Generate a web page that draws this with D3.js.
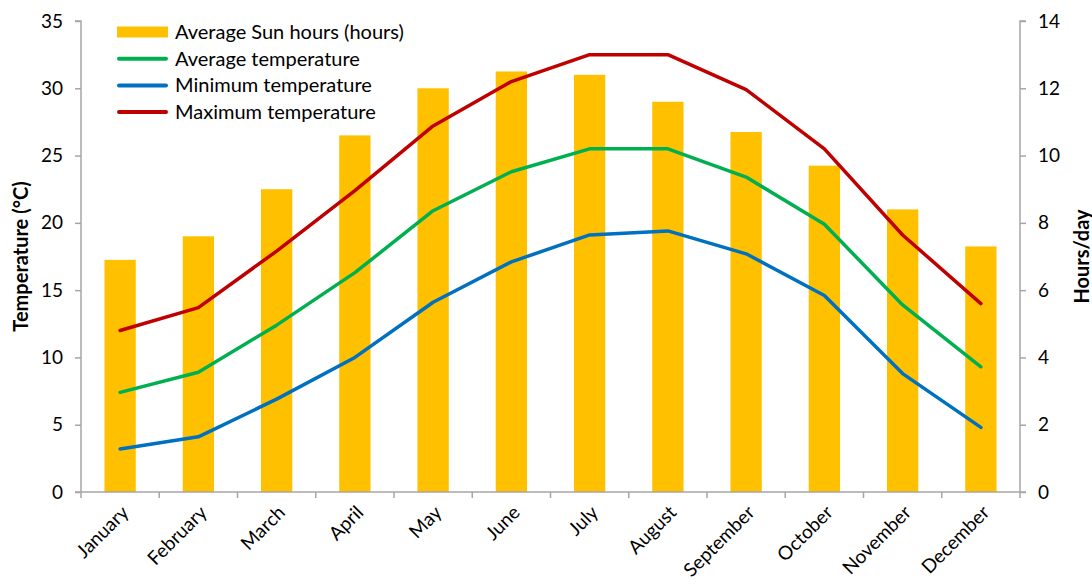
<!DOCTYPE html>
<html>
<head>
<meta charset="utf-8">
<script src="https://cdn.jsdelivr.net/npm/d3@7"></script>
<style>
  body { margin: 0; background: #fff; }
  text { font-family: Lato, "Open Sans", sans-serif; fill: #000; }
</style>
</head>
<body>
<div id="chart"></div>
<script>
var months = ["January", "February", "March", "April", "May", "June", "July",
    "August", "September", "October", "November", "December"];
var sunHours = [6.9, 7.6, 9.0, 10.6, 12.0, 12.5, 12.4, 11.6, 10.7, 9.7, 8.4, 7.3];
var avgTemp = [7.4, 8.9, 12.4, 16.3, 20.9, 23.8, 25.5, 25.5, 23.4, 19.9, 13.9, 9.3];
var minTemp = [3.2, 4.1, 6.9, 10.0, 14.1, 17.1, 19.1, 19.4, 17.7, 14.6, 8.8, 4.8];
var maxTemp = [12.0, 13.7, 17.9, 22.4, 27.2, 30.5, 32.5, 32.5, 29.9, 25.5, 19.1, 14.0];
var tempTicks = [0, 5, 10, 15, 20, 25, 30, 35];
var hourTicks = [0, 2, 4, 6, 8, 10, 12, 14];

var series = [
    {name: "Average temperature", values: avgTemp, color: "#00B050"},
    {name: "Minimum temperature", values: minTemp, color: "#0070C0"},
    {name: "Maximum temperature", values: maxTemp, color: "#C00000"}
];

var margin = {top: 21, right: 72, bottom: 95, left: 81};
var W = 1092, H = 587;
var width = W - margin.left - margin.right;
var height = H - margin.top - margin.bottom;
var fontSize = "19px";

var svg = d3.select("#chart").append("svg")
    .attr("width", W)
    .attr("height", H);
var g = svg.append("g")
    .attr("transform", "translate(" + margin.left + "," + margin.top + ")");

var x = d3.scaleBand().domain(months).range([0, width]).padding(0);
var yT = d3.scaleLinear().domain([0, 35]).range([height, 0]);
var yH = d3.scaleLinear().domain([0, 14]).range([height, 0]);

var axisColor = "#A6A6A6";
var barW = x.bandwidth() * 0.4;

// bars
g.selectAll(".bar")
    .data(months)
    .enter().append("rect")
    .attr("class", "bar")
    .attr("x", function(d) { return x(d) + (x.bandwidth() - barW) / 2 })
    .attr("width", barW)
    .attr("y", function(d, i) { return yH(sunHours[i]) })
    .attr("height", function(d, i) { return height - yH(sunHours[i]) })
    .attr("fill", "#FFC000");

// lines
var line = d3.line()
    .x(function(d, i) { return x(months[i]) + x.bandwidth() / 2 })
    .y(function(d) { return yT(d) });

series.forEach(function(s) {
    g.append("path")
        .datum(s.values)
        .attr("fill", "none")
        .attr("stroke", s.color)
        .attr("stroke-width", 3.5)
        .attr("stroke-linecap", "round")
        .attr("stroke-linejoin", "round")
        .attr("d", line);
});

// left axis
var left = g.append("g")
    .call(d3.axisLeft(yT).tickValues(tempTicks).tickSize(6).tickPadding(12));
// right axis
var right = g.append("g")
    .attr("transform", "translate(" + width + ",0)")
    .call(d3.axisRight(yH).tickValues(hourTicks).tickSize(6).tickPadding(12));
// bottom axis
var bottom = g.append("g")
    .attr("transform", "translate(0," + height + ")")
    .call(d3.axisBottom(x).tickSize(0).tickFormat(""));

[left, right, bottom].forEach(function(a) {
    a.select(".domain").attr("stroke", axisColor).attr("stroke-width", 1.5);
    a.selectAll(".tick line").attr("stroke", axisColor).attr("stroke-width", 1.5);
    a.selectAll(".tick text").style("font-size", fontSize).style("font-family", "Lato, sans-serif").attr("fill", "#000");
});
left.select(".domain").attr("d", "M0," + height + "V0H-6");
right.select(".domain").attr("d", "M0," + height + "V0H6");
bottom.select(".domain").attr("d", "M-6,0H" + (width + 6));

// category boundary ticks
g.append("g").selectAll("line")
    .data(months.concat(["end"]))
    .enter().append("line")
    .attr("x1", function(d, i) { return i * x.step() })
    .attr("x2", function(d, i) { return i * x.step() })
    .attr("y1", height)
    .attr("y2", height + 6)
    .attr("stroke", axisColor)
    .attr("stroke-width", 1.5);

// month labels
g.append("g").selectAll("text")
    .data(months)
    .enter().append("text")
    .attr("transform", function(d) {
        return "translate(" + (x(d) + x.bandwidth() / 2 + 5) + "," + (height + 17) + ") rotate(-45)";
    })
    .attr("text-anchor", "end")
    .attr("dy", "0.35em")
    .style("font-size", fontSize)
    .text(function(d) { return d });

// axis titles
svg.append("text")
    .attr("transform", "translate(28," + (margin.top + height / 2) + ") rotate(-90)")
    .attr("text-anchor", "middle")
    .style("font-size", "20px")
    .style("font-weight", "bold")
    .text("Temperature (°C)");

svg.append("text")
    .attr("transform", "translate(1089," + (margin.top + height / 2) + ") rotate(-90)")
    .attr("text-anchor", "middle")
    .style("font-size", "20px")
    .style("font-weight", "bold")
    .text("Hours/day");

// legend
var legendItems = [{name: "Average Sun hours (hours)", color: "#FFC000", bar: true}].concat(series);
var legend = svg.selectAll(".legend")
    .data(legendItems)
    .enter().append("g")
    .attr("class", "legend")
    .attr("transform", function(d, i) { return "translate(117," + (32 + i * 26.7) + ")" });

legend.append("rect")
    .attr("x", 0)
    .attr("width", 51)
    .attr("y", function(d) { return d.bar ? -5.5 : -2 })
    .attr("height", function(d) { return d.bar ? 11 : 4 })
    .attr("rx", function(d) { return d.bar ? 0 : 2 })
    .attr("fill", function(d) { return d.color });

legend.append("text")
    .attr("x", 58)
    .attr("dy", "0.35em")
    .style("font-size", "20px")
    .text(function(d) { return d.name });
</script>
</body>
</html>
